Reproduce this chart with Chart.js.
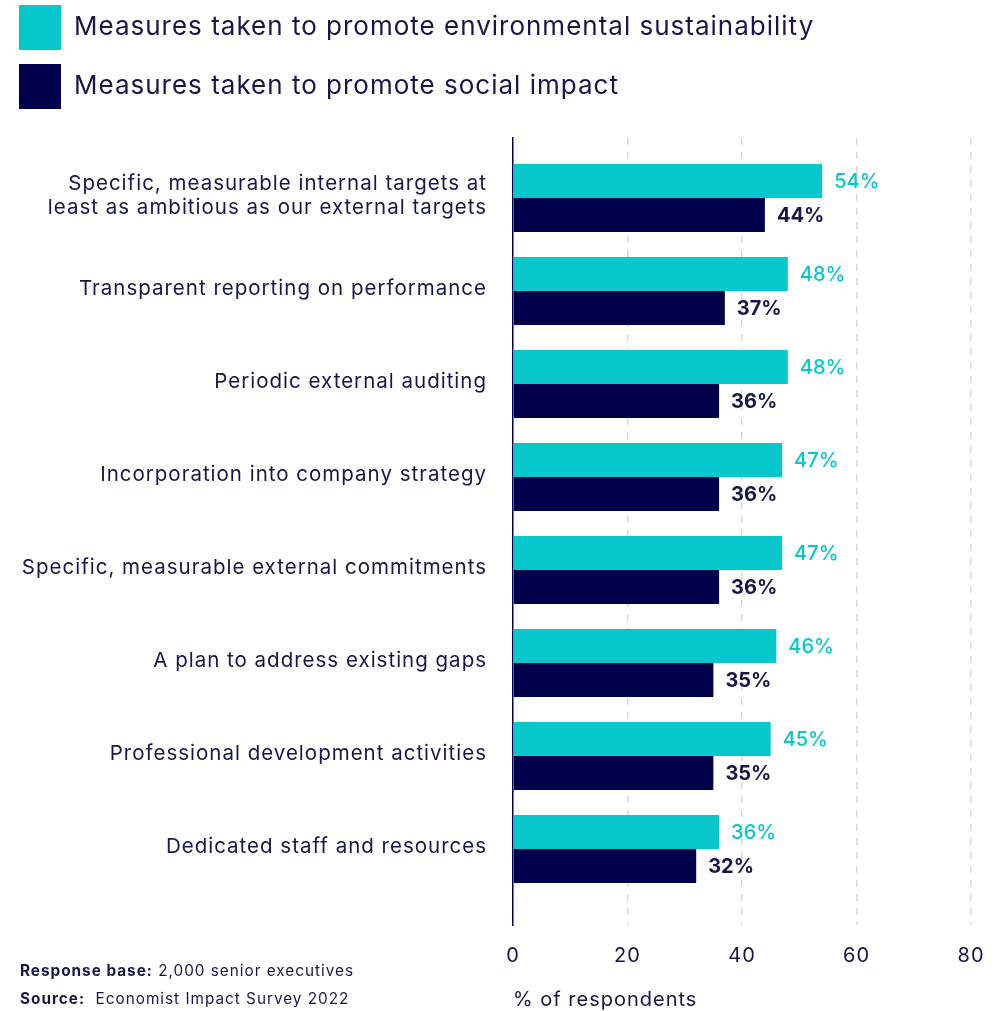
<!DOCTYPE html>
<html>
<head>
<meta charset="utf-8">
<script src="https://cdn.jsdelivr.net/npm/chart.js@4.4.1/dist/chart.umd.min.js"></script>
<style>
  html, body { margin: 0; padding: 0; background: #ffffff; }
  #wrap { position: relative; width: 1004px; height: 1011px; }
</style>
</head>
<body>
<div id="wrap"><canvas id="c" width="1004" height="1011"></canvas></div>
<script>
const categories = [
  ["Specific, measurable internal targets at", "least as ambitious as our external targets"],
  "Transparent reporting on performance",
  "Periodic external auditing",
  "Incorporation into company strategy",
  "Specific, measurable external commitments",
  "A plan to address existing gaps",
  "Professional development activities",
  "Dedicated staff and resources"
];
const seriesNames = [
  "Measures taken to promote environmental sustainability",
  "Measures taken to promote social impact"
];
const environmental = [54, 48, 48, 47, 47, 46, 45, 36];
const social = [44, 37, 36, 36, 36, 35, 35, 32];
const xTicks = [0, 20, 40, 60, 80];
const axisTitle = "% of respondents";
const noteBaseLabel = "Response base:";
const noteBaseText = " 2,000 senior executives";
const noteSourceLabel = "Source:";
const noteSourceText = "  Economist Impact Survey 2022";

const TEAL = '#06C7CB';
const NAVY = '#00004B';
const TEXT = '#16164A';
const FONT = 'Inter, "Noto Sans", sans-serif';

const spacing = {
  id: 'spacing',
  beforeUpdate(chart) { chart.ctx.letterSpacing = '1px'; },
  beforeDraw(chart) { chart.ctx.letterSpacing = '1px'; }
};

const valueLabels = {
  id: 'valueLabels',
  afterDatasetsDraw(chart) {
    const ctx = chart.ctx;
    ctx.save();
    ctx.letterSpacing = '0px';
    chart.data.datasets.forEach((ds, di) => {
      const meta = chart.getDatasetMeta(di);
      meta.data.forEach((bar, i) => {
        ctx.font = (di === 0 ? '500 ' : '700 ') + '20px ' + FONT;
        ctx.fillStyle = di === 0 ? TEAL : TEXT;
        ctx.textAlign = 'left';
        ctx.textBaseline = 'middle';
        ctx.fillText(ds.data[i].x + '%', bar.x + 12, bar.y + 1);
      });
    });
    ctx.restore();
  }
};

const footnotes = {
  id: 'footnotes',
  afterDraw(chart) {
    const ctx = chart.ctx;
    ctx.save();
    ctx.letterSpacing = '1px';
    ctx.textBaseline = 'middle';
    ctx.fillStyle = TEXT;
    const rows = [[noteBaseLabel, noteBaseText, 971], [noteSourceLabel, noteSourceText, 999]];
    rows.forEach(([b, t, y]) => {
      ctx.font = '700 15.3px ' + FONT;
      ctx.fillText(b, 20, y);
      const w = ctx.measureText(b).width;
      ctx.font = '400 15.3px ' + FONT;
      ctx.fillText(t, 20 + w, y);
    });
    ctx.restore();
  }
};

new Chart(document.getElementById('c'), {
  type: 'bar',
  data: {
    datasets: [
      { label: seriesNames[0], data: environmental.map((v, i) => ({ x: v, y: i })), backgroundColor: TEAL, borderWidth: 0 },
      { label: seriesNames[1], data: social.map((v, i) => ({ x: v, y: i })), backgroundColor: NAVY, borderWidth: 0 }
    ]
  },
  options: {
    indexAxis: 'y',
    responsive: false,
    animation: false,
    devicePixelRatio: 1,
    categoryPercentage: 0.73,
    barPercentage: 1.0,
    layout: { padding: { top: -9, left: 5, right: 33, bottom: 0 } },
    plugins: {
      legend: {
        display: true,
        position: 'top',
        align: 'start',
        labels: {
          boxWidth: 42,
          boxHeight: 45,
          padding: 14,
          color: TEXT,
          font: { family: FONT, size: 26, weight: '400' }
        }
      },
      tooltip: { enabled: false }
    },
    scales: {
      x: {
        type: 'linear',
        position: 'bottom',
        min: 0,
        max: 80,
        afterBuildTicks: s => { s.ticks = xTicks.map(v => ({ value: v })); },
        afterFit: s => { s.height = 86; },
        ticks: { color: TEXT, padding: 19, font: { family: FONT, size: 20 } },
        grid: {
          drawTicks: false,
          lineWidth: 1.5,
          color: c => (c.tick && c.tick.value === 0) ? 'rgba(0,0,0,0)' : '#D9D9D9'
        },
        border: { display: false, dash: [7, 7] },
        title: {
          display: true,
          text: axisTitle,
          align: 'start',
          color: TEXT,
          padding: { top: 0, bottom: -1 },
          font: { family: FONT, size: 20 }
        }
      },
      xTop: {
        type: 'linear',
        position: 'top',
        display: true,
        min: 0,
        max: 80,
        afterFit: s => { s.height = 19; },
        ticks: { display: false },
        grid: { display: false, drawTicks: false },
        border: { display: false }
      },
      y: {
        type: 'linear',
        reverse: true,
        offset: false,
        min: -0.645,
        max: 7.817,
        afterBuildTicks: s => { s.ticks = categories.map((_, i) => ({ value: i })); },
        afterFit: s => { s.width = 508; },
        ticks: {
          color: TEXT,
          padding: 26,
          labelOffset: -2,
          font: { family: FONT, size: 20.5, lineHeight: 1.17 },
          callback: v => categories[Math.round(v)]
        },
        grid: { display: false, drawTicks: false },
        border: { display: true, color: NAVY, width: 1.5 }
      }
    }
  },
  plugins: [spacing, valueLabels, footnotes]
});
</script>
</body>
</html>
